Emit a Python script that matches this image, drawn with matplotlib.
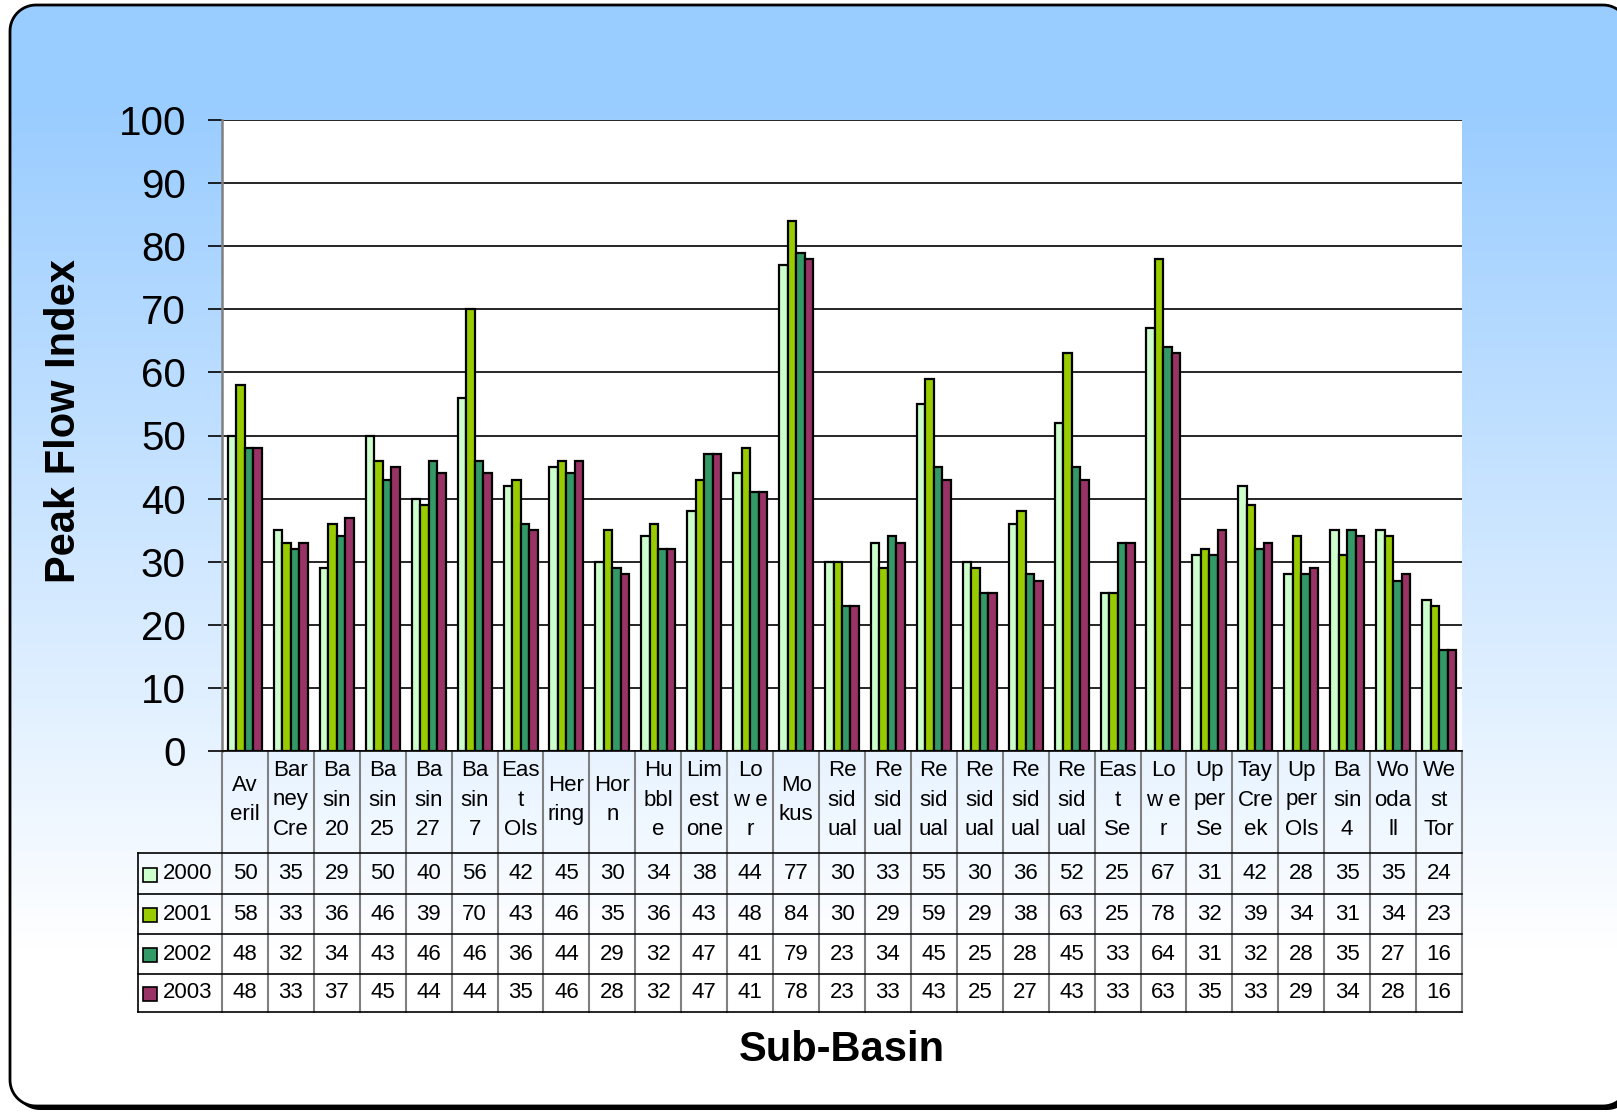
import matplotlib

matplotlib.use("Agg")
import matplotlib.pyplot as plt  # noqa: E402
import numpy as np  # noqa: E402
from matplotlib.patches import Polygon, Rectangle  # noqa: E402
from matplotlib.transforms import blended_transform_factory  # noqa: E402

plt.rcParams["font.family"] = ["Liberation Sans", "DejaVu Sans"]

SUB_BASINS = [
    "Av\neril", "Bar\nney\nCre", "Ba\nsin\n20", "Ba\nsin\n25", "Ba\nsin\n27",
    "Ba\nsin\n7", "Eas\nt\nOls", "Her\nring", "Hor\nn", "Hu\nbbl\ne",
    "Lim\nest\none", "Lo\nw e\nr", "Mo\nkus", "Re\nsid\nual", "Re\nsid\nual",
    "Re\nsid\nual", "Re\nsid\nual", "Re\nsid\nual", "Re\nsid\nual", "Eas\nt\nSe",
    "Lo\nw e\nr", "Up\nper\nSe", "Tay\nCre\nek", "Up\nper\nOls", "Ba\nsin\n4",
    "Wo\noda\nll", "We\nst\nTor",
]
YEARS = ["2000", "2001", "2002", "2003"]
PEAK_2000 = [50, 35, 29, 50, 40, 56, 42, 45, 30, 34, 38, 44, 77, 30, 33, 55, 30, 36, 52, 25, 67, 31, 42, 28, 35, 35, 24]
PEAK_2001 = [58, 33, 36, 46, 39, 70, 43, 46, 35, 36, 43, 48, 84, 30, 29, 59, 29, 38, 63, 25, 78, 32, 39, 34, 31, 34, 23]
PEAK_2002 = [48, 32, 34, 43, 46, 46, 36, 44, 29, 32, 47, 41, 79, 23, 34, 45, 25, 28, 45, 33, 64, 31, 32, 28, 35, 27, 16]
PEAK_2003 = [48, 33, 37, 45, 44, 44, 35, 46, 28, 32, 47, 41, 78, 23, 33, 43, 25, 27, 43, 33, 63, 35, 33, 29, 34, 28, 16]
SERIES = [PEAK_2000, PEAK_2001, PEAK_2002, PEAK_2003]

# ---------- Style ----------
COLORS = ["#CCFFCC", "#99CC00", "#339966", "#993366"]
TOP_BLUE = np.array([153, 204, 255]) / 255.0
W, H = 1617, 1113
TABLE_FS = 16

# plot area / table layout in pixels
PLOT_L, PLOT_R, PLOT_T, PLOT_B = 222, 1462, 120, 751
HEADER_B = 853
ROW_LINES = [853, 894, 934, 974, 1012]
LEGEND_L = 138


def rounded_rect(x0, y0, x1, y1, r, n=16):
    """Polygon outline of a rounded rectangle (pixel coords, y grows downward)."""
    pts = []
    corners = [(x1 - r, y0 + r, -90, 0), (x1 - r, y1 - r, 0, 90),
               (x0 + r, y1 - r, 90, 180), (x0 + r, y0 + r, 180, 270)]
    for cx, cy, a0, a1 in corners:
        ang = np.radians(np.linspace(a0, a1, n))
        pts.extend(zip(cx + r * np.cos(ang), cy + r * np.sin(ang)))
    return np.array(pts)


fig = plt.figure(figsize=(W / 100, H / 100), dpi=100)

# full-figure pixel canvas for frame, gradient and the data table
bg = fig.add_axes([0, 0, 1, 1], zorder=0)
bg.axis("off")

# frame runs slightly past the right edge of the canvas, as in the original
FRAME = (10, 5, 1629, 1106)
shadow = Polygon(rounded_rect(*[v + 4 for v in FRAME], 26), closed=True,
                 fc="black", ec="none", zorder=0.5)
bg.add_patch(shadow)
frame = Polygon(rounded_rect(*FRAME, 26), closed=True, fc="none", ec="black",
                lw=2, zorder=3)
bg.add_patch(frame)

# vertical fade: solid light blue at the top, washing out to white near the bottom
t = np.clip((np.arange(H) - 100) / 850.0, 0, 1)
grad = TOP_BLUE[None, :] * (1 - t[:, None]) + t[:, None]
grad = np.repeat(grad[:, None, :], 8, axis=1)
img = bg.imshow(grad, extent=(0, 1660, H, 0), aspect="auto", interpolation="nearest", zorder=1)
img.set_clip_path(frame)

# ---------- Bars ----------
ax = fig.add_axes(
    [PLOT_L / W, (H - PLOT_B) / H, (PLOT_R - PLOT_L) / W, (PLOT_B - PLOT_T) / H],
    zorder=2,
)
ax.set_facecolor("white")
x = np.arange(len(SUB_BASINS))
bw = 0.185
for k, (vals, color) in enumerate(zip(SERIES, COLORS)):
    ax.bar(x + (k - 1.5) * bw, vals, bw, color=color, edgecolor="black", linewidth=1.6, zorder=3)

ax.set_xlim(-0.5, len(SUB_BASINS) - 0.5)
ax.set_ylim(0, 100)
ax.set_yticks(range(0, 101, 10))
ax.set_xticks([])
ax.yaxis.grid(True, color="black", linewidth=1.2)
ax.set_axisbelow(True)
ax.tick_params(axis="y", length=10, width=1.2, direction="out", labelsize=29, pad=16)
for side in ("top", "right"):
    ax.spines[side].set_visible(False)
ax.spines["left"].set_color("#808080")
ax.spines["left"].set_linewidth(1.8)
ax.spines["bottom"].set_linewidth(1.2)

ax.set_ylabel("Peak Flow Index", fontsize=30, fontweight="bold", labelpad=0)
ax.yaxis.set_label_coords(-(PLOT_L - 84) / (PLOT_R - PLOT_L), (PLOT_B - 421) / (PLOT_B - PLOT_T))

# ---------- Data table ----------
trans = blended_transform_factory(ax.transData, bg.transData)

for i, label in enumerate(SUB_BASINS):
    bg.text(i, 800, label, transform=trans, ha="center", va="center",
            fontsize=TABLE_FS, linespacing=1.52, zorder=4)
    for r, vals in enumerate(SERIES):
        yc = (ROW_LINES[r] + ROW_LINES[r + 1]) / 2
        bg.text(i, yc, str(vals[i]), transform=trans, ha="center", va="center",
                fontsize=TABLE_FS, zorder=4)

for b in np.arange(len(SUB_BASINS) + 1) - 0.5:
    bg.plot([b, b], [PLOT_B, ROW_LINES[-1]], transform=trans, color="#808080", lw=1.5, zorder=4)

for yl in ROW_LINES:
    bg.plot([LEGEND_L, PLOT_R], [yl, yl], color="black", lw=1.2, zorder=4)
bg.plot([LEGEND_L, LEGEND_L], [HEADER_B, ROW_LINES[-1]], color="black", lw=1.2, zorder=4)

for r, (year, color) in enumerate(zip(YEARS, COLORS)):
    yc = (ROW_LINES[r] + ROW_LINES[r + 1]) / 2
    bg.add_patch(Rectangle((143, yc - 6), 14, 14, fc=color, ec="black", lw=1.2, zorder=4))
    bg.text(163, yc, year, ha="left", va="center", fontsize=TABLE_FS, zorder=4)

bg.text((PLOT_L + PLOT_R) / 2, 1050, "Sub-Basin", ha="center", va="center",
        fontsize=30, fontweight="bold", zorder=4)

bg.set_xlim(0, W)
bg.set_ylim(H, 0)
fig.savefig("out.png", dpi=100)
